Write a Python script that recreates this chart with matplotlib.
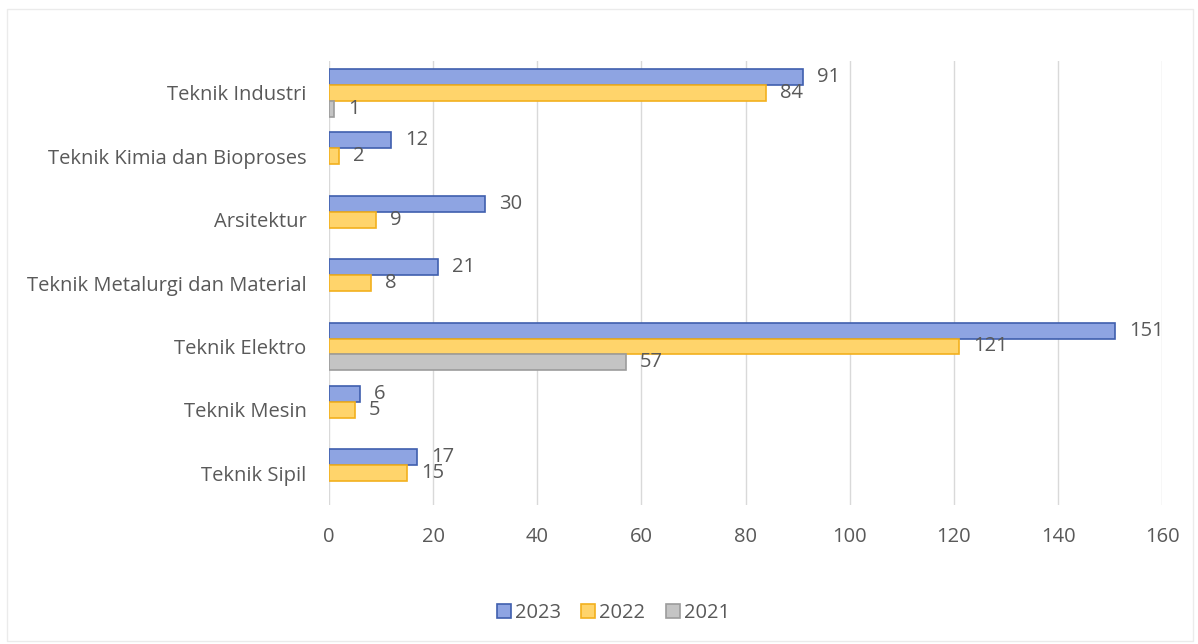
import matplotlib.pyplot as plt
import numpy as np
from matplotlib.patches import Rectangle

categories = ["Teknik Industri", "Teknik Kimia dan Bioproses", "Arsitektur",
              "Teknik Metalurgi dan Material", "Teknik Elektro", "Teknik Mesin", "Teknik Sipil"]
v2023 = [91, 12, 30, 21, 151, 6, 17]
v2022 = [84, 2, 9, 8, 121, 5, 15]
v2021 = [1, None, None, None, 57, None, None]

series = [("2023", v2023, "#8EA4E2", "#3F5FAE"),
          ("2022", v2022, "#FFD46B", "#F2B01E"),
          ("2021", v2021, "#C4C4C4", "#9C9C9C")]

plt.rcParams['font.family'] = ['Open Sans', 'DejaVu Sans']
text_color = "#595959"
fs = 14.5

fig = plt.figure(figsize=(11.98, 6.44), dpi=100)
ax = fig.add_axes([0.2746, 0.216, 0.6955, 0.689])

y = np.arange(len(categories))
h = 0.25
for i, (name, vals, fc, ec) in enumerate(series):
    pos = [p + (i - 1) * h for p, v in zip(y, vals) if v is not None]
    vv = [v for v in vals if v is not None]
    ax.barh(pos, vv, height=h, color=fc, edgecolor=ec, linewidth=1.2, label=name, zorder=3)
    for p, v in zip(pos, vv):
        ax.annotate(str(v), (v, p), xytext=(10, 0), textcoords="offset points",
                    va="center", ha="left", fontsize=fs, color=text_color, zorder=4)

ax.set_xlim(0, 160)
ax.set_ylim(len(categories) - 0.5, -0.5)
ax.set_xticks(np.arange(0, 161, 20))
ax.set_yticks(y)
ax.set_yticklabels(categories)
ax.tick_params(axis="both", length=0, labelsize=fs, colors=text_color)
ax.tick_params(axis="x", pad=16)
ax.tick_params(axis="y", pad=16)
ax.grid(axis="x", color="#D9D9D9", linewidth=1, zorder=0)
for s in ax.spines.values():
    s.set_visible(False)

leg = fig.legend(loc="center", bbox_to_anchor=(0.512, 0.048), ncol=3, frameon=False,
                 fontsize=fs, handlelength=0.7, handleheight=0.7, handletextpad=0.2,
                 columnspacing=1.0)
for t in leg.get_texts():
    t.set_color(text_color)

fig.patches.append(Rectangle((0.006, 0.004), 0.99, 0.982, transform=fig.transFigure,
                             fill=False, edgecolor="#EBEBEB", linewidth=1))

fig.savefig("out.png", dpi=100)
